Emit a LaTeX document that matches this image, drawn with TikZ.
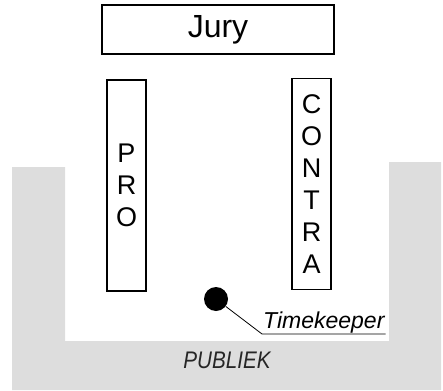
\documentclass[tikz,border=0pt]{standalone}
\usepackage{fontspec}
\setmainfont{Liberation Sans}
\newfontfamily\narrowsans[FakeStretch=0.86]{Liberation Sans}
\usetikzlibrary{positioning}
\definecolor{hall}{HTML}{DDDDDD}

\begin{document}
\begin{tikzpicture}[x=1pt,y=-1pt,
    table/.style={draw, line width=1.6pt, inner sep=0pt},
    stand/.style={table, minimum width=39pt, minimum height=211pt, align=center,
      font=\fontsize{27}{32}\selectfont},]
    \useasboundingbox (0,0) rectangle (443,390);
    \fill [hall] (12,167) -- (65,167) -- (65,341) -- (389,341) -- (389,162)
      -- (441,162) -- (441,390) -- (12,390) -- cycle;
    \node [table, minimum width=232pt, minimum height=49pt, font=\fontsize{32}{36}\selectfont] (jury) at (218,29.5) {Jury};
    \node [stand] (pro) at (126.5,185.5) {P\\R\\O};
    \node [stand] (contra) at (311.5,184) {C\\O\\N\\T\\R\\A};
    \node [circle, fill, inner sep=0pt, minimum size=24pt] (tk) at (216,299) {};
    \node [anchor=south west, inner sep=1pt, font=\fontsize{23}{26}\selectfont\itshape] (tklabel) at (262,334) {Timekeeper};
    \draw [line width=0.8pt] (tk) -- (tklabel.south west) -- (tklabel.south east);
    \node [font=\narrowsans\fontsize{24}{28}\selectfont\itshape, text=black!85] (publiek) at (227,360) {PUBLIEK};
  \end{tikzpicture}
\end{document}
